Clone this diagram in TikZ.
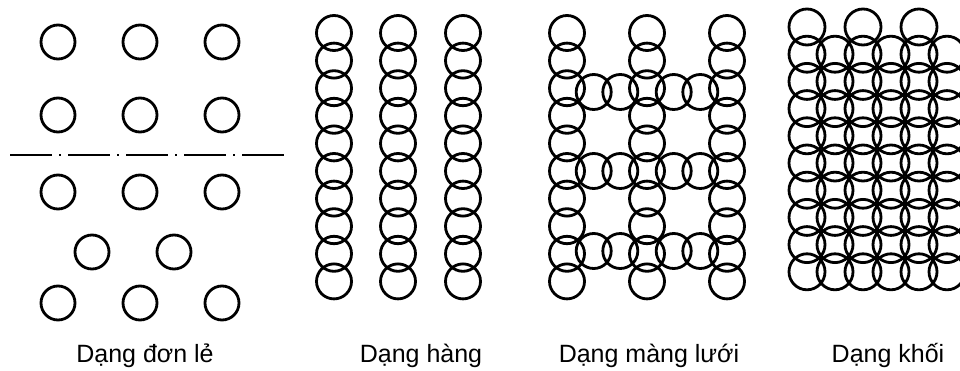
\documentclass[tikz,border=0pt]{standalone}
\usepackage{fontspec}
\setmainfont{Liberation Sans}
\usetikzlibrary{positioning}
\begin{document}
\begin{tikzpicture}[x=1pt, y=-1pt,
        bead/.style={draw=black, line width=2.8pt},
        caption/.style={font=\fontsize{25}{30}\selectfont, anchor=base},
        cutline/.style={draw=black, line width=2.8pt, dash pattern=on 42pt off 7pt on 2pt off 7pt}
    ]
    \useasboundingbox (0,0) rectangle (960,371);

    % don le
    \foreach \x in {58,140,222}
        \foreach \y in {42,115,192,303}
            \draw[bead] (\x,\y) circle (17pt);
    \foreach \x in {92,174}
        \draw[bead] (\x,252) circle (17pt);
    \draw[cutline] (10,155) -- (284,155);

    % hang
    \foreach \x in {334,398,463}
        \foreach \i in {0,...,9}
            \draw[bead] (\x,{33+27.6*\i}) circle (17.5pt);

    % mang luoi
    \foreach \x in {567,647,727}
        \foreach \i in {0,...,9}
            \draw[bead] (\x,{33+27.6*\i}) circle (17.5pt);
    \foreach \y in {92,171,251}
        \foreach \x in {593.7,620.3,673.7,700.3}
            \draw[bead] (\x,\y) circle (17.5pt);

    % khoi
    \foreach \x in {807,863,919}
        \foreach \i in {0,...,9}
            \draw[bead] (\x,{27+27.2*\i}) circle (18pt);
    \foreach \x in {835,891,947}
        \foreach \i in {1,...,9}
            \draw[bead] (\x,{27+27.2*\i}) circle (18pt);

    \node[caption] (single) at (145,362) {Dạng đơn lẻ};
    \node[caption] (rows) at (421,362) {Dạng hàng};
    \node[caption] (mesh) at (649,362) {Dạng màng lưới};
    \node[caption] (block) at (888,362) {Dạng khối};
\end{tikzpicture}
\end{document}
